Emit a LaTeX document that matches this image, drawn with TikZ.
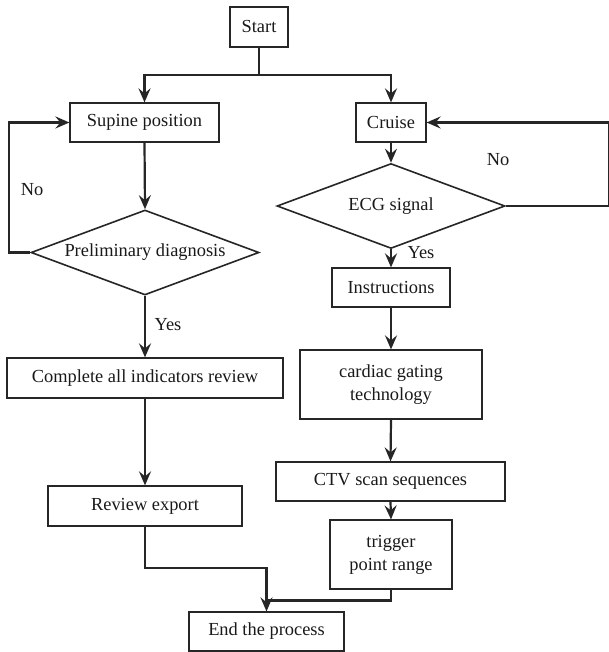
\documentclass[tikz,border=0pt]{standalone}
\usepackage{fontspec}
\setmainfont{Liberation Serif}
\usetikzlibrary{shapes.geometric,arrows.meta}
\begin{document}
\begin{tikzpicture}[x=0.5pt,y=-0.5pt,
  every node/.style={font=\fontsize{9.2pt}{11.5pt}\selectfont, text=black!90},
  box/.style={draw=black!85, line width=0.6pt, rectangle, inner sep=0pt, align=center},
  dia/.style={draw=black!85, line width=0.8pt, diamond, aspect=2.7, inner sep=0pt},
  conn/.style={draw=black!85, line width=1.1pt},
  arr/.style={conn, -{Stealth[length=7pt,width=6pt,inset=2.5pt]}},
  lbl/.style={inner sep=0pt}]
\useasboundingbox (0,0) rectangle (609,652);
\node[box, minimum width=29pt, minimum height=20pt] (start) at (259,27) {Start};
\node[box, minimum width=74.5pt, minimum height=19.5pt] (sup) at (144.5,122.5) {Supine position};
\node[box, minimum width=35pt, minimum height=19.5pt] (cru) at (391,122.5) {Cruise};
\node[dia, minimum width=114pt, minimum height=42.5pt] (pre) at (145,252.5) {Preliminary diagnosis};
\node[dia, minimum width=114pt, minimum height=42.5pt] (ecg) at (391,206) {ECG signal};
\node[box, minimum width=59pt, minimum height=19.5pt] (ins) at (391,287.5) {Instructions};
\node[box, minimum width=138pt, minimum height=20pt] (cai) at (145,378) {Complete all indicators review};
\node[box, minimum width=91pt, minimum height=34.5pt] (cgt) at (391,384.5) {cardiac gating\\technology};
\node[box, minimum width=114.5pt, minimum height=19.5pt] (ctv) at (390.5,481.5) {CTV scan sequences};
\node[box, minimum width=97pt, minimum height=20pt] (rev) at (145,506) {Review export};
\node[box, minimum width=61pt, minimum height=34.5pt] (trg) at (391,554.5) {trigger\\point range};
\node[box, minimum width=77.5pt, minimum height=19.5pt] (end) at (266.5,631.5) {End the process};

\coordinate (split) at (259,75);
\coordinate (ll) at (9,252.5);
\coordinate (rr) at (609,206);
\coordinate (m1) at (145,568);
\coordinate (m2) at (266.5,568);
\coordinate (m3) at (266.5,600.5);

\draw[conn] (start.south) -- (split);
\draw[arr] (split) -| (sup.north);
\draw[arr] (split) -| (cru.north);
\draw[arr] (sup.south) -- (pre.north);
\draw[arr] (cru.south) -- (ecg.north);
\draw[arr] (pre.west) -- (ll) |- (sup.west);
\draw[arr] (ecg.east) -- (rr) |- (cru.east);
\draw[arr] (ecg.south) -- (ins.north);
\draw[arr] (pre.south) -- (cai.north);
\draw[arr] (ins.south) -- (cgt.north);
\draw[arr] (cai.south) -- (rev.north);
\draw[arr] (cgt.south) -- (ctv.north);
\draw[arr] (ctv.south) -- (trg.north);
\draw[arr] (rev.south) -- (m1) -- (m2) -- (end.north);
\draw[conn] (trg.south) |- (m3);

\node[lbl] (no1) at (32,190) {No};
\node[lbl] (no2) at (498,160) {No};
\node[lbl] (yes1) at (421,253) {Yes};
\node[lbl] (yes2) at (168,325) {Yes};
\end{tikzpicture}
\end{document}
